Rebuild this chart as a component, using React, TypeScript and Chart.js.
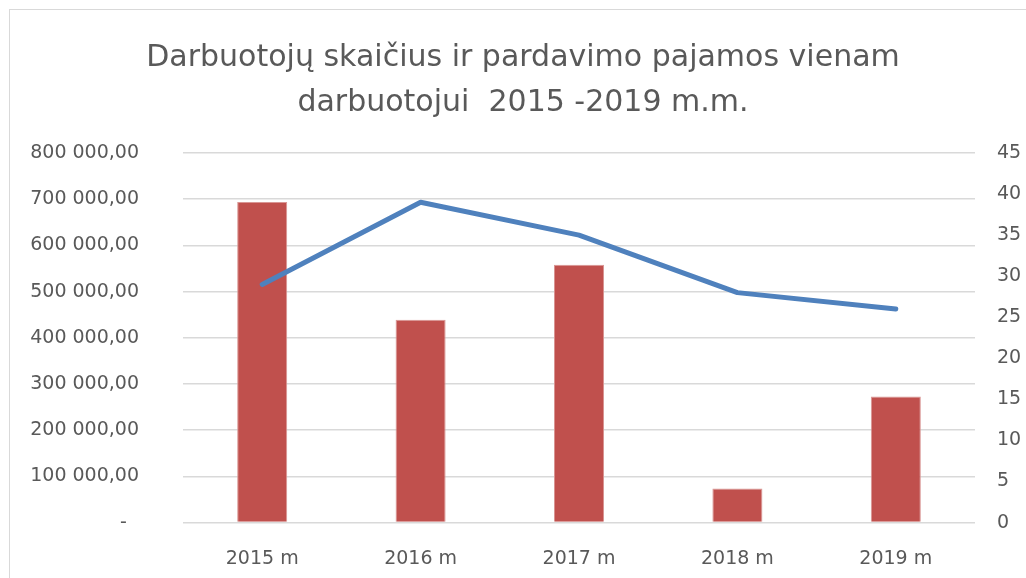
import React, { useEffect, useRef } from "react";
import { Chart, registerables } from "chart.js";

Chart.register(...registerables);

const categories = ["2015 m", "2016 m", "2017 m", "2018 m", "2019 m"];
const salesPerEmployee = [694000, 439000, 558000, 74000, 273000];
const employees = [29, 39, 35, 28, 26];
const titleLines = ["Darbuotojų skaičius ir pardavimo pajamos vienam", "darbuotojui  2015 -2019 m.m."];

const FONT = "'DejaVu Sans', sans-serif";
const TEXT = "#595959";

function fmt(v: number): string {
  if (v === 0) return "-  ";
  const s = Math.round(v).toString().replace(/\B(?=(\d{3})+(?!\d))/g, " ");
  return s + ",00";
}

export default function App() {
  const ref = useRef<HTMLCanvasElement | null>(null);
  useEffect(() => {
    if (!ref.current) return;
    const chart = new Chart(ref.current, {
      data: {
        labels: categories,
        datasets: [
          {
            type: "line",
            label: "Darbuotojų skaičius",
            data: employees,
            yAxisID: "y2",
            borderColor: "#4F81BD",
            backgroundColor: "#4F81BD",
            borderWidth: 5,
            pointRadius: 0,
            tension: 0,
            borderCapStyle: "round",
            borderJoinStyle: "round",
            order: 0,
          },
          {
            type: "bar",
            label: "Pardavimo pajamos vienam darbuotojui",
            data: salesPerEmployee,
            yAxisID: "y",
            backgroundColor: "#C0504D",
            borderColor: "#D99694",
            borderWidth: 1,
            barPercentage: 0.316,
            categoryPercentage: 1,
            order: 1,
          },
        ],
      },
      options: {
        animation: false,
        responsive: false,
        maintainAspectRatio: false,
        layout: { padding: { left: 20, right: 0, top: 0, bottom: 0 } },
        plugins: {
          legend: { display: false },
          tooltip: { enabled: false },
          title: {
            display: true,
            text: titleLines,
            color: TEXT,
            font: { family: FONT, size: 30, weight: "normal", lineHeight: 1.5 },
            padding: { top: 36, bottom: 27 },
          },
        },
        scales: {
          x: {
            grid: { display: false },
            border: { display: false },
            ticks: { color: TEXT, font: { family: FONT, size: 19 }, padding: 17 },
            afterFit: (s: any) => { s.height = 55; },
          },
          y: {
            position: "left",
            min: 0,
            max: 800000,
            ticks: { stepSize: 100000, color: TEXT, font: { family: FONT, size: 19 }, padding: 44, callback: (v: any) => fmt(Number(v)) },
            grid: { color: "#D9D9D9", lineWidth: 1.5, drawTicks: false },
            border: { display: false },
            afterFit: (s: any) => { s.width = 163; },
          },
          y2: {
            position: "right",
            min: 0,
            max: 45,
            ticks: { stepSize: 5, color: TEXT, font: { family: FONT, size: 19 }, padding: 22 },
            grid: { display: false, drawTicks: false },
            border: { display: false },
            afterFit: (s: any) => { s.width = 51; },
          },
        },
      } as any,
    });
    return () => chart.destroy();
  }, []);
  return (
    <div style={{ position: "fixed", left: 0, top: 0, width: 1026, height: 578, overflow: "hidden", background: "#fff" }}>
      <div style={{ position: "absolute", left: 9, top: 9, width: 1100, height: 700, border: "1px solid #D9D9D9" }} />
      <canvas ref={ref} width={1026} height={578} style={{ position: "absolute", left: 0, top: 0, width: 1026, height: 578 }} />
    </div>
  );
}
